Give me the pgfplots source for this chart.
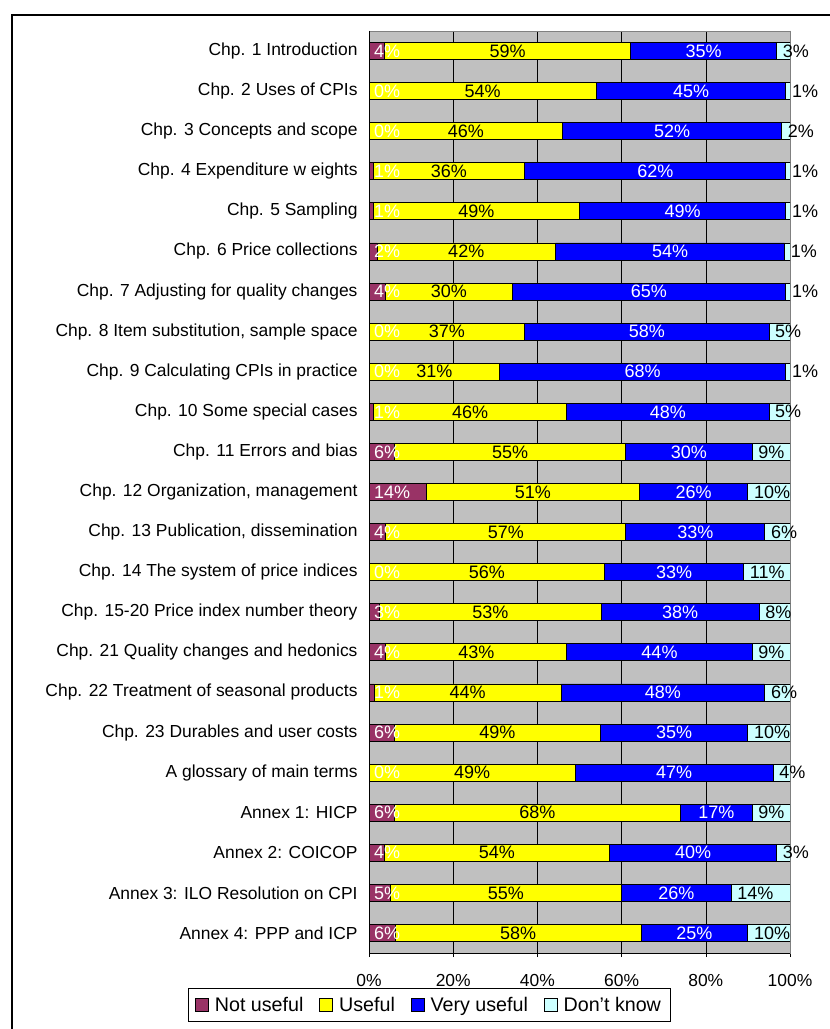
\documentclass[border=0pt]{standalone}
\usepackage{fontspec}
\setmainfont{Liberation Sans}
\usepackage{pgfplots}
\usepackage{pgfplotstable}
\pgfplotsset{compat=1.18}

\definecolor{notuse}{RGB}{153,51,102}
\definecolor{use}{RGB}{255,255,0}
\definecolor{veryuse}{RGB}{0,0,255}
\definecolor{dontknow}{RGB}{204,255,255}
\definecolor{plotbg}{RGB}{192,192,192}
\definecolor{plotedge}{RGB}{128,128,128}

% share of answers per chapter, in percent
\pgfplotstableread{
row nu    u     vu    dk
0   3.6   58.6  34.6  3.2
1   0     54    45    1
2   0     46    52    2
3   1     36    62    1
4   1     49    49    1
5   1.9   42.4  54.4  1.3
6   4     30    65    1
7   0     37    58    5
8   0     31    68    1
9   1     46    48    5
10  6     55    30    9
11  13.6  50.6  25.8  10
12  4     57    33    6
13  0     56    33    11
14  2.55  52.55 37.55 7.55
15  4     43    44    9
16  1.2   44.4  48.4  6
17  6     49    35    10
18  0     49    47    4
19  6     68    17    9
20  3.6   53.6  39.6  3.2
21  5     55    26    14
22  6.2   58.4  25.4  10
}\usefulness

\newcommand{\catfont}{\fontsize{12.4}{14}\selectfont}
\newcommand{\lblfont}{\fontsize{12.8}{14}\selectfont}
\newcommand{\legfont}{\fontsize{14}{16}\selectfont}

\pgfplotsset{
    frame/.style={
        at={(92.25mm,19mm)}, anchor=south west,
        scale only axis,
        width=105.25mm, height=230.5mm,
        xmin=0, xmax=100,
        ymin=-0.5, ymax=22.5,
        y dir=reverse,
    },
    pct/.style={
        draw=none,
        point meta=explicit,
        nodes near coords={\pgfmathprintnumber[fixed,precision=0,assume math mode=true]{\pgfplotspointmeta}\%},
        nodes near coords style={font=\lblfont, inner sep=0pt, #1},
    },
}

\begin{document}
\begin{tikzpicture}
\useasboundingbox (0,0) rectangle (207.25mm,257.25mm);
\draw[line width=0.5mm] (3mm,-5mm) -- (3mm,253.5mm) -- (210mm,253.5mm);
\begin{axis}[
    frame,
    xbar stacked,
    bar width=4.25mm,
    axis background/.style={fill=plotbg},
    axis line style={draw=plotedge, line width=0.6pt},
    xtick={0,20,...,100},
    xtick pos=left,
    tick align=outside,
    major tick length=1mm,
    xtick style={black, line width=0.4pt},
    xticklabel={\pgfmathprintnumber[assume math mode=true]{\tick}\%},
    xticklabel style={font=\catfont, inner sep=0pt, yshift=-4.2mm},
    xmajorgrids,
    major grid style={black, line width=0.4pt},
    ytick={0,...,22},
    ytick style={draw=none},
    yticklabels={
        Chp. 1 Introduction,
        Chp. 2 Uses of CPIs,
        Chp. 3 Concepts and scope,
        Chp. 4 Expenditure w eights,
        Chp. 5 Sampling,
        Chp. 6 Price collections,
        Chp. 7 Adjusting for quality changes,
        {Chp. 8 Item substitution, sample space},
        Chp. 9 Calculating CPIs in practice,
        Chp. 10 Some special cases,
        Chp. 11 Errors and bias,
        {Chp. 12 Organization, management},
        {Chp. 13 Publication, dissemination},
        Chp. 14 The system of price indices,
        Chp. 15-20 Price index number theory,
        Chp. 21 Quality changes and hedonics,
        Chp. 22 Treatment of seasonal products,
        Chp. 23 Durables and user costs,
        A glossary of main terms,
        Annex 1: HICP,
        Annex 2: COICOP,
        Annex 3: ILO Resolution on CPI,
        Annex 4: PPP and ICP},
    yticklabel style={font=\catfont, inner sep=0pt, xshift=-1.8mm},
    every axis plot/.append style={draw=black, line width=0.6pt},
    legend style={at={(axis description cs:-0.43,-0.038)}, anchor=north west,
        legend columns=-1, draw=black, line width=0.6pt, font=\legfont,
        inner xsep=1.6mm, inner ysep=1.4mm,
        /tikz/every odd column/.append style={column sep=0.8mm},
        /tikz/every even column/.append style={column sep=3.2mm}},
    legend image code/.code={\draw[#1, draw=black, line width=0.6pt] (0mm,-1.6mm) rectangle (3.3mm,1.6mm);},
    after end axis/.code={
        \draw[black, line width=0.6pt] (axis description cs:0,1) -- (axis description cs:0,0) -- (axis description cs:1,0);
    },
]
\addplot[fill=notuse] table[x=nu, y=row] {\usefulness};
\addplot[fill=use] table[x=u, y=row] {\usefulness};
\addplot[fill=veryuse] table[x=vu, y=row] {\usefulness};
\addplot[fill=dontknow] table[x=dk, y=row] {\usefulness};
\legend{Not useful, Useful, Very useful, Don’t know}
\end{axis}
% value labels, centred or left-aligned on their segments
\begin{axis}[frame, axis lines=none, clip=false]
\addplot[pct={white, anchor=west, xshift=1.2mm}]
    table[x expr=0, y=row, meta=nu] {\usefulness};
\addplot[pct={black, anchor=center}]
    table[x expr=\thisrow{nu}+\thisrow{u}/2, y=row, meta=u] {\usefulness};
\addplot[pct={white, anchor=center}]
    table[x expr=\thisrow{nu}+\thisrow{u}+\thisrow{vu}/2, y=row, meta=vu] {\usefulness};
\addplot[pct={black, anchor=west, xshift=1.5mm}]
    table[x expr=\thisrow{nu}+\thisrow{u}+\thisrow{vu}, y=row, meta=dk] {\usefulness};
\end{axis}
\end{tikzpicture}
\end{document}
